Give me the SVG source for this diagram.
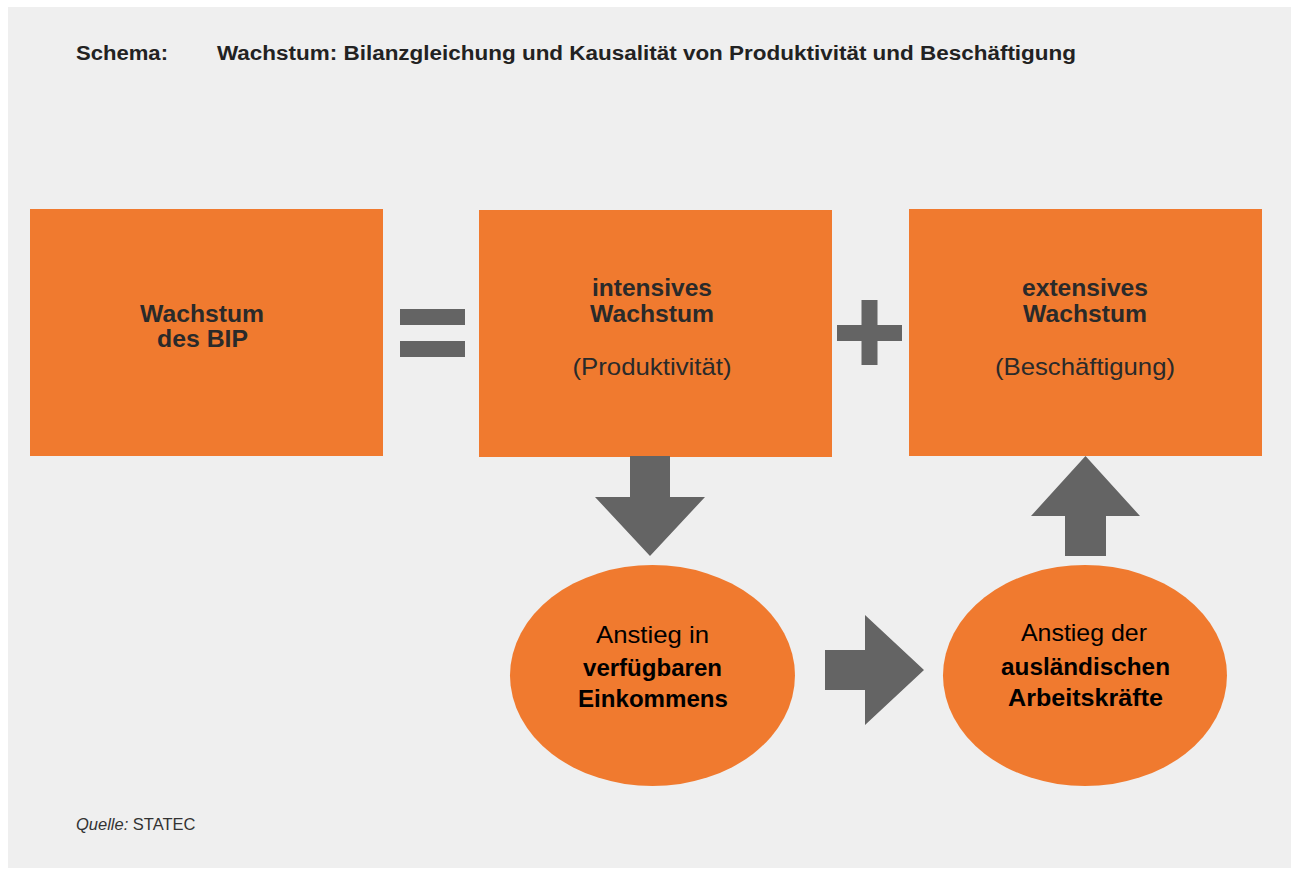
<svg xmlns="http://www.w3.org/2000/svg" width="1291" height="870" viewBox="0 0 1291 870">
<style>
.box{fill:#f07a2f}
.sym{fill:#646464}
.t{font-family:"Liberation Sans",Arial,sans-serif;text-anchor:middle}
.bb{font-weight:bold;font-size:24px;fill:#2a2a2a}
.br{font-size:24px;fill:#2a2a2a}
.eb{font-weight:bold;font-size:24px;fill:#000}
.er{font-size:24px;fill:#000}
.title{font-family:"Liberation Sans",Arial,sans-serif;font-weight:bold;font-size:20px;fill:#222}
</style>
<rect x="0" y="0" width="1291" height="870" fill="#ffffff"/>
<rect x="8" y="7" width="1283" height="861" fill="#efefef"/>
<text class="title" x="76" y="60" textLength="92" lengthAdjust="spacingAndGlyphs">Schema:</text>
<text class="title" x="217" y="60" textLength="859" lengthAdjust="spacingAndGlyphs">Wachstum: Bilanzgleichung und Kausalität von Produktivität und Beschäftigung</text>

<g id="node-bip">
<rect class="box" x="30" y="209" width="353" height="247"/>
<text class="t bb" x="202" y="322" textLength="124" lengthAdjust="spacingAndGlyphs">Wachstum</text>
<text class="t bb" x="202.5" y="347" textLength="91" lengthAdjust="spacingAndGlyphs">des BIP</text>
</g>
<g id="node-intensiv">
<rect class="box" x="479" y="210" width="353" height="247"/>
<text class="t bb" x="652" y="296" textLength="120" lengthAdjust="spacingAndGlyphs">intensives</text>
<text class="t bb" x="652" y="322" textLength="124" lengthAdjust="spacingAndGlyphs">Wachstum</text>
<text class="t br" x="652" y="375" textLength="159" lengthAdjust="spacingAndGlyphs">(Produktivität)</text>
</g>
<g id="node-extensiv">
<rect class="box" x="909" y="209" width="353" height="247"/>
<text class="t bb" x="1085" y="296" textLength="126" lengthAdjust="spacingAndGlyphs">extensives</text>
<text class="t bb" x="1085" y="322" textLength="124" lengthAdjust="spacingAndGlyphs">Wachstum</text>
<text class="t br" x="1085" y="375" textLength="180" lengthAdjust="spacingAndGlyphs">(Beschäftigung)</text>
</g>
<g id="node-einkommen">
<ellipse class="box" cx="652.5" cy="675.5" rx="142.5" ry="110.5"/>
<text class="t er" x="652.5" y="643" textLength="113" lengthAdjust="spacingAndGlyphs">Anstieg in</text>
<text class="t eb" x="652.5" y="676" textLength="139" lengthAdjust="spacingAndGlyphs">verfügbaren</text>
<text class="t eb" x="653" y="707" textLength="150" lengthAdjust="spacingAndGlyphs">Einkommens</text>
</g>
<g id="node-arbeitskraefte">
<ellipse class="box" cx="1085" cy="675.5" rx="142" ry="110.5"/>
<text class="t er" x="1084" y="641" textLength="126" lengthAdjust="spacingAndGlyphs">Anstieg der</text>
<text class="t eb" x="1085.5" y="675" textLength="169" lengthAdjust="spacingAndGlyphs">ausländischen</text>
<text class="t eb" x="1085.5" y="706" textLength="155" lengthAdjust="spacingAndGlyphs">Arbeitskräfte</text>
</g>

<g id="connectors">
<rect class="sym" x="400" y="309" width="65" height="16"/>
<rect class="sym" x="400" y="341" width="65" height="16"/>
<rect class="sym" x="837" y="325" width="65" height="16"/>
<rect class="sym" x="861.5" y="300" width="16" height="65"/>
<polygon class="sym" points="630,456 670,456 670,497 705,497 650,556 595,497 630,497"/>
<polygon class="sym" points="1065,556 1106,556 1106,516 1140,516 1085.5,456 1031,516 1065,516"/>
<polygon class="sym" points="825,650 865,650 865,615 924,670 865,725 865,690 825,690"/>
</g>

<text x="76" y="830" font-family="Liberation Sans, Arial, sans-serif" font-size="16.5" fill="#333"><tspan font-style="italic">Quelle:</tspan> STATEC</text>
</svg>
